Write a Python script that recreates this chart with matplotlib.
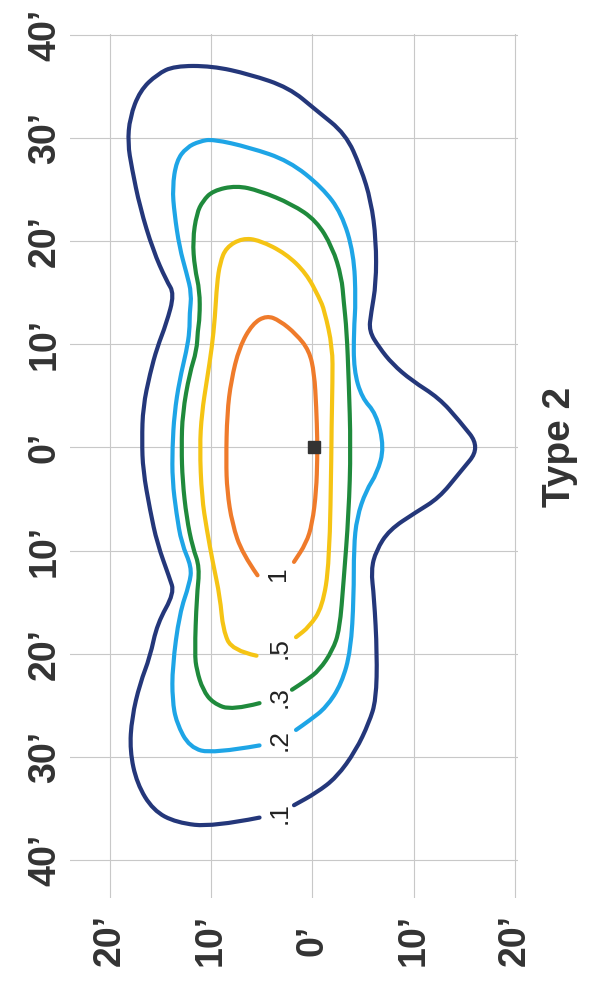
# Type 2 isofootcandle diagram (drawn rotated 90 degrees, as in the scan)
import matplotlib
matplotlib.use('Agg')
import matplotlib.pyplot as plt
from matplotlib.path import Path
from matplotlib.patches import PathPatch

plt.rcParams['font.family'] = ['Liberation Sans', 'DejaVu Sans']

# ── data: each contour as (across-road h, along-road v) in feet ──
fc_01_h = [-5.2, -9.8, -13.4, -15.7, -17.3, -18.0, -17.8, -17.0, -16.0, -15.3, -13.6, -14.1,
           -15.3, -16.0, -16.7, -16.8, -16.7, -16.0, -15.3, -14.4, -13.6, -14.4, -15.7, -17.0,
           -17.8, -18.2, -18.0, -17.0, -15.3, -13.6, -9.9, -6.2, -2.3, 0.4, 3.3, 4.8, 5.8, 6.3,
           6.3, 5.8, 5.6, 6.6, 7.9, 9.8, 12.5, 14.5, 16.6, 14.5, 12.5, 10.2, 7.6, 6.3, 5.8, 6.1,
           6.4, 6.3, 5.6, 4.3, 2.4, 0.4, -1.8]
fc_01_v = [-35.9, -36.8, -36.4, -35.2, -32.6, -29.4, -26.2, -22.9, -20.3, -17.1, -14.1, -12.6,
           -9.3, -6.1, -2.2, 0.7, 3.9, 7.2, 9.7, 12.0, 14.9, 16.2, 19.1, 23.3,
           27.1, 29.5, 32.0, 34.6, 36.2, 37.0, 37.0, 36.2, 34.9, 32.7, 30.4, 27.1, 23.9, 20.1,
           15.9, 13.0, 11.3, 9.7, 8.1, 6.5, 4.8, 2.6, 0.0, -2.5, -4.9, -6.3, -8.0, -10.0, -11.9, -14.5,
           -20.0, -24.5, -26.7, -29.4, -32.0, -33.5, -34.7]

fc_02_h = [-5.2, -9.8, -12.1, -13.4, -13.8, -13.8, -13.1, -12.1, -11.9, -12.9, -13.4, -13.8,
           -13.8, -13.6, -13.1, -12.4, -12.1, -12.1, -11.9, -12.4, -13.1, -13.6, -13.8, -13.4,
           -12.4, -11.1, -9.8, -6.2, -2.3, 1.0, 2.9, 4.1, 4.3, 4.1, 4.1, 4.9, 6.3, 7.1, 6.4,
           5.3, 4.4, 4.1, 4.1, 3.8, 2.9, 1.4, -0.3, -1.6]
fc_02_v = [-28.9, -29.7, -29.1, -26.7, -24.5, -21.3, -16.1, -13.2, -11.6, -9.3, -6.4, -3.2,
           0.0, 3.3, 6.5, 9.4, 11.3, 13.0, 14.9, 16.9, 19.4, 22.7, 25.2, 27.8,
           29.1, 29.7, 29.9, 29.1, 27.8, 25.2, 22.7, 18.8, 14.2, 11.3, 7.5, 4.8, 3.3, 0.0, -2.5,
           -4.2, -6.8, -9.7, -14.5, -19.7, -22.9, -25.2, -26.5, -27.4]

fc_03_h = [-5.2, -7.9, -9.8, -10.8, -11.4, -11.6, -11.4, -11.1, -11.8, -12.4, -12.8, -12.9,
           -12.8, -12.1, -11.4, -11.3, -11.1, -11.1, -11.6, -11.8, -11.4, -10.8, -9.8, -7.5,
           -5.2, -2.0, 0.4, 2.0, 2.9, 3.1, 3.4, 3.6, 3.8, 3.6, 3.1, 2.7, 2.0, 0.7, -0.6, -2.0]
fc_03_v = [-24.8, -25.5, -24.8, -23.5, -21.6, -20.0, -14.5, -11.6, -9.7, -6.8, -3.2, 0.0,
           3.3, 7.2, 9.4, 11.3, 12.6, 15.2, 17.4, 20.1, 22.7, 23.9, 24.9, 25.4,
           24.9, 23.6, 22.0, 19.4, 16.5, 14.2, 11.3, 6.5, 0.0, -6.4, -12.9, -17.7, -19.7, -21.6, -22.6, -23.5]

fc_05_h = [-5.5, -7.9, -8.8, -9.1, -9.8, -10.4, -10.9, -11.1, -10.9, -10.4, -9.9, -9.6,
           -9.4, -9.1, -8.5, -6.9, -5.2, -2.6, -0.6, 0.7, 1.2, 2.0, 2.0, 1.9, 1.9, 1.7, 1.0,
           -0.3, -1.6]
fc_05_v = [-20.2, -19.7, -17.7, -14.5, -11.2, -8.0, -4.8, 0.0, 3.3, 6.5, 9.7, 12.6,
           15.9, 17.9, 19.4, 20.3, 20.1, 18.8, 16.9, 14.5, 13.3, 9.7, 6.5, 1.6, 0.0, -11.2, -15.5,
           -17.4, -18.4]

fc_1_h = [-5.4, -6.9, -7.9, -8.4, -8.5, -8.4, -8.0, -7.2, -5.9, -4.5, -3.2, -1.6, -0.3,
          0.2, 0.4, 0.5, 0.5, 0.4, 0.0, -0.6, -1.8]
fc_1_v = [-12.4, -10.3, -7.4, -4.2, -1.3, 3.3, 6.5, 9.7, 12.0, 12.8, 12.3, 11.0, 9.4,
          7.2, 3.9, 0.7, -1.0, -4.2, -7.4, -9.3, -11.1]

contour_labels = ['.1', '.2', '.3', '.5', '1']
label_h = [-3.2, -3.2, -3.2, -3.2, -3.4]
label_v = [-35.5, -28.4, -24.2, -19.5, -12.2]

along_ticks = [40, 30, 20, 10, 0, -10, -20, -30, -40]
across_ticks = [-20, -10, 0, 10, 20]

contours = [(fc_01_h, fc_01_v, '#24377a'),
            (fc_02_h, fc_02_v, '#1ea5e6'),
            (fc_03_h, fc_03_v, '#1f8a3c'),
            (fc_05_h, fc_05_v, '#f5c414'),
            (fc_1_h, fc_1_v, '#ef7b2b')]


def smooth_path(h, v):
    # quadratic bezier chain: traced points act as control points
    pts = list(zip(h, v))
    verts = [pts[0]]
    codes = [Path.MOVETO]
    for i in range(1, len(pts) - 1):
        mid = ((pts[i][0] + pts[i + 1][0]) / 2, (pts[i][1] + pts[i + 1][1]) / 2)
        verts += [pts[i], mid]
        codes += [Path.CURVE3, Path.CURVE3]
    verts.append(pts[-1])
    codes.append(Path.LINETO)
    return Path(verts, codes)


# ── figure ──
fig = plt.figure(figsize=(5.98, 9.83), dpi=100)
ax = fig.add_axes([70 / 598, 85 / 983, 448 / 598, 864 / 983])
ax.set_xlim(-23.9, 20.3)
ax.set_ylim(-43.7, 40.1)

for t in across_ticks:
    ax.axvline(t, color='#c8c8c8', lw=0.8, zorder=1)
for t in along_ticks:
    ax.axhline(t, color='#c8c8c8', lw=0.8, zorder=1)

for h, v, c in contours:
    ax.add_patch(PathPatch(smooth_path(h, v), facecolor='none', edgecolor=c, lw=3.0,
                           capstyle='round', joinstyle='round', zorder=3))

for lab, h, v in zip(contour_labels, label_h, label_v):
    ax.text(h, v, lab, rotation=90, ha='center', va='center', fontsize=19,
            color='#222222', zorder=4)

# luminaire position
ax.plot([0.2], [0], marker='s', markersize=8, color='#333333', zorder=5)

# rotated tick labels
for t in along_ticks:
    ax.text(-0.056, t, f"{abs(t)}\u2019", transform=ax.get_yaxis_transform(),
            rotation=90, ha='center', va='center', fontsize=27, fontweight='bold',
            color='#333333')
for t in across_ticks:
    ax.text(t, -0.049, f"{abs(t)}\u2019", transform=ax.get_xaxis_transform(),
            rotation=90, ha='center', va='center', fontsize=27, fontweight='bold',
            color='#333333')

fig.text(560 / 598, 1 - 447 / 983, 'Type 2', rotation=90, ha='center', va='center',
         fontsize=28, fontweight='bold', color='#333333')

ax.set_xticks([])
ax.set_yticks([])
for s in ax.spines.values():
    s.set_visible(False)

fig.savefig('out.png', dpi=100, facecolor='white')
